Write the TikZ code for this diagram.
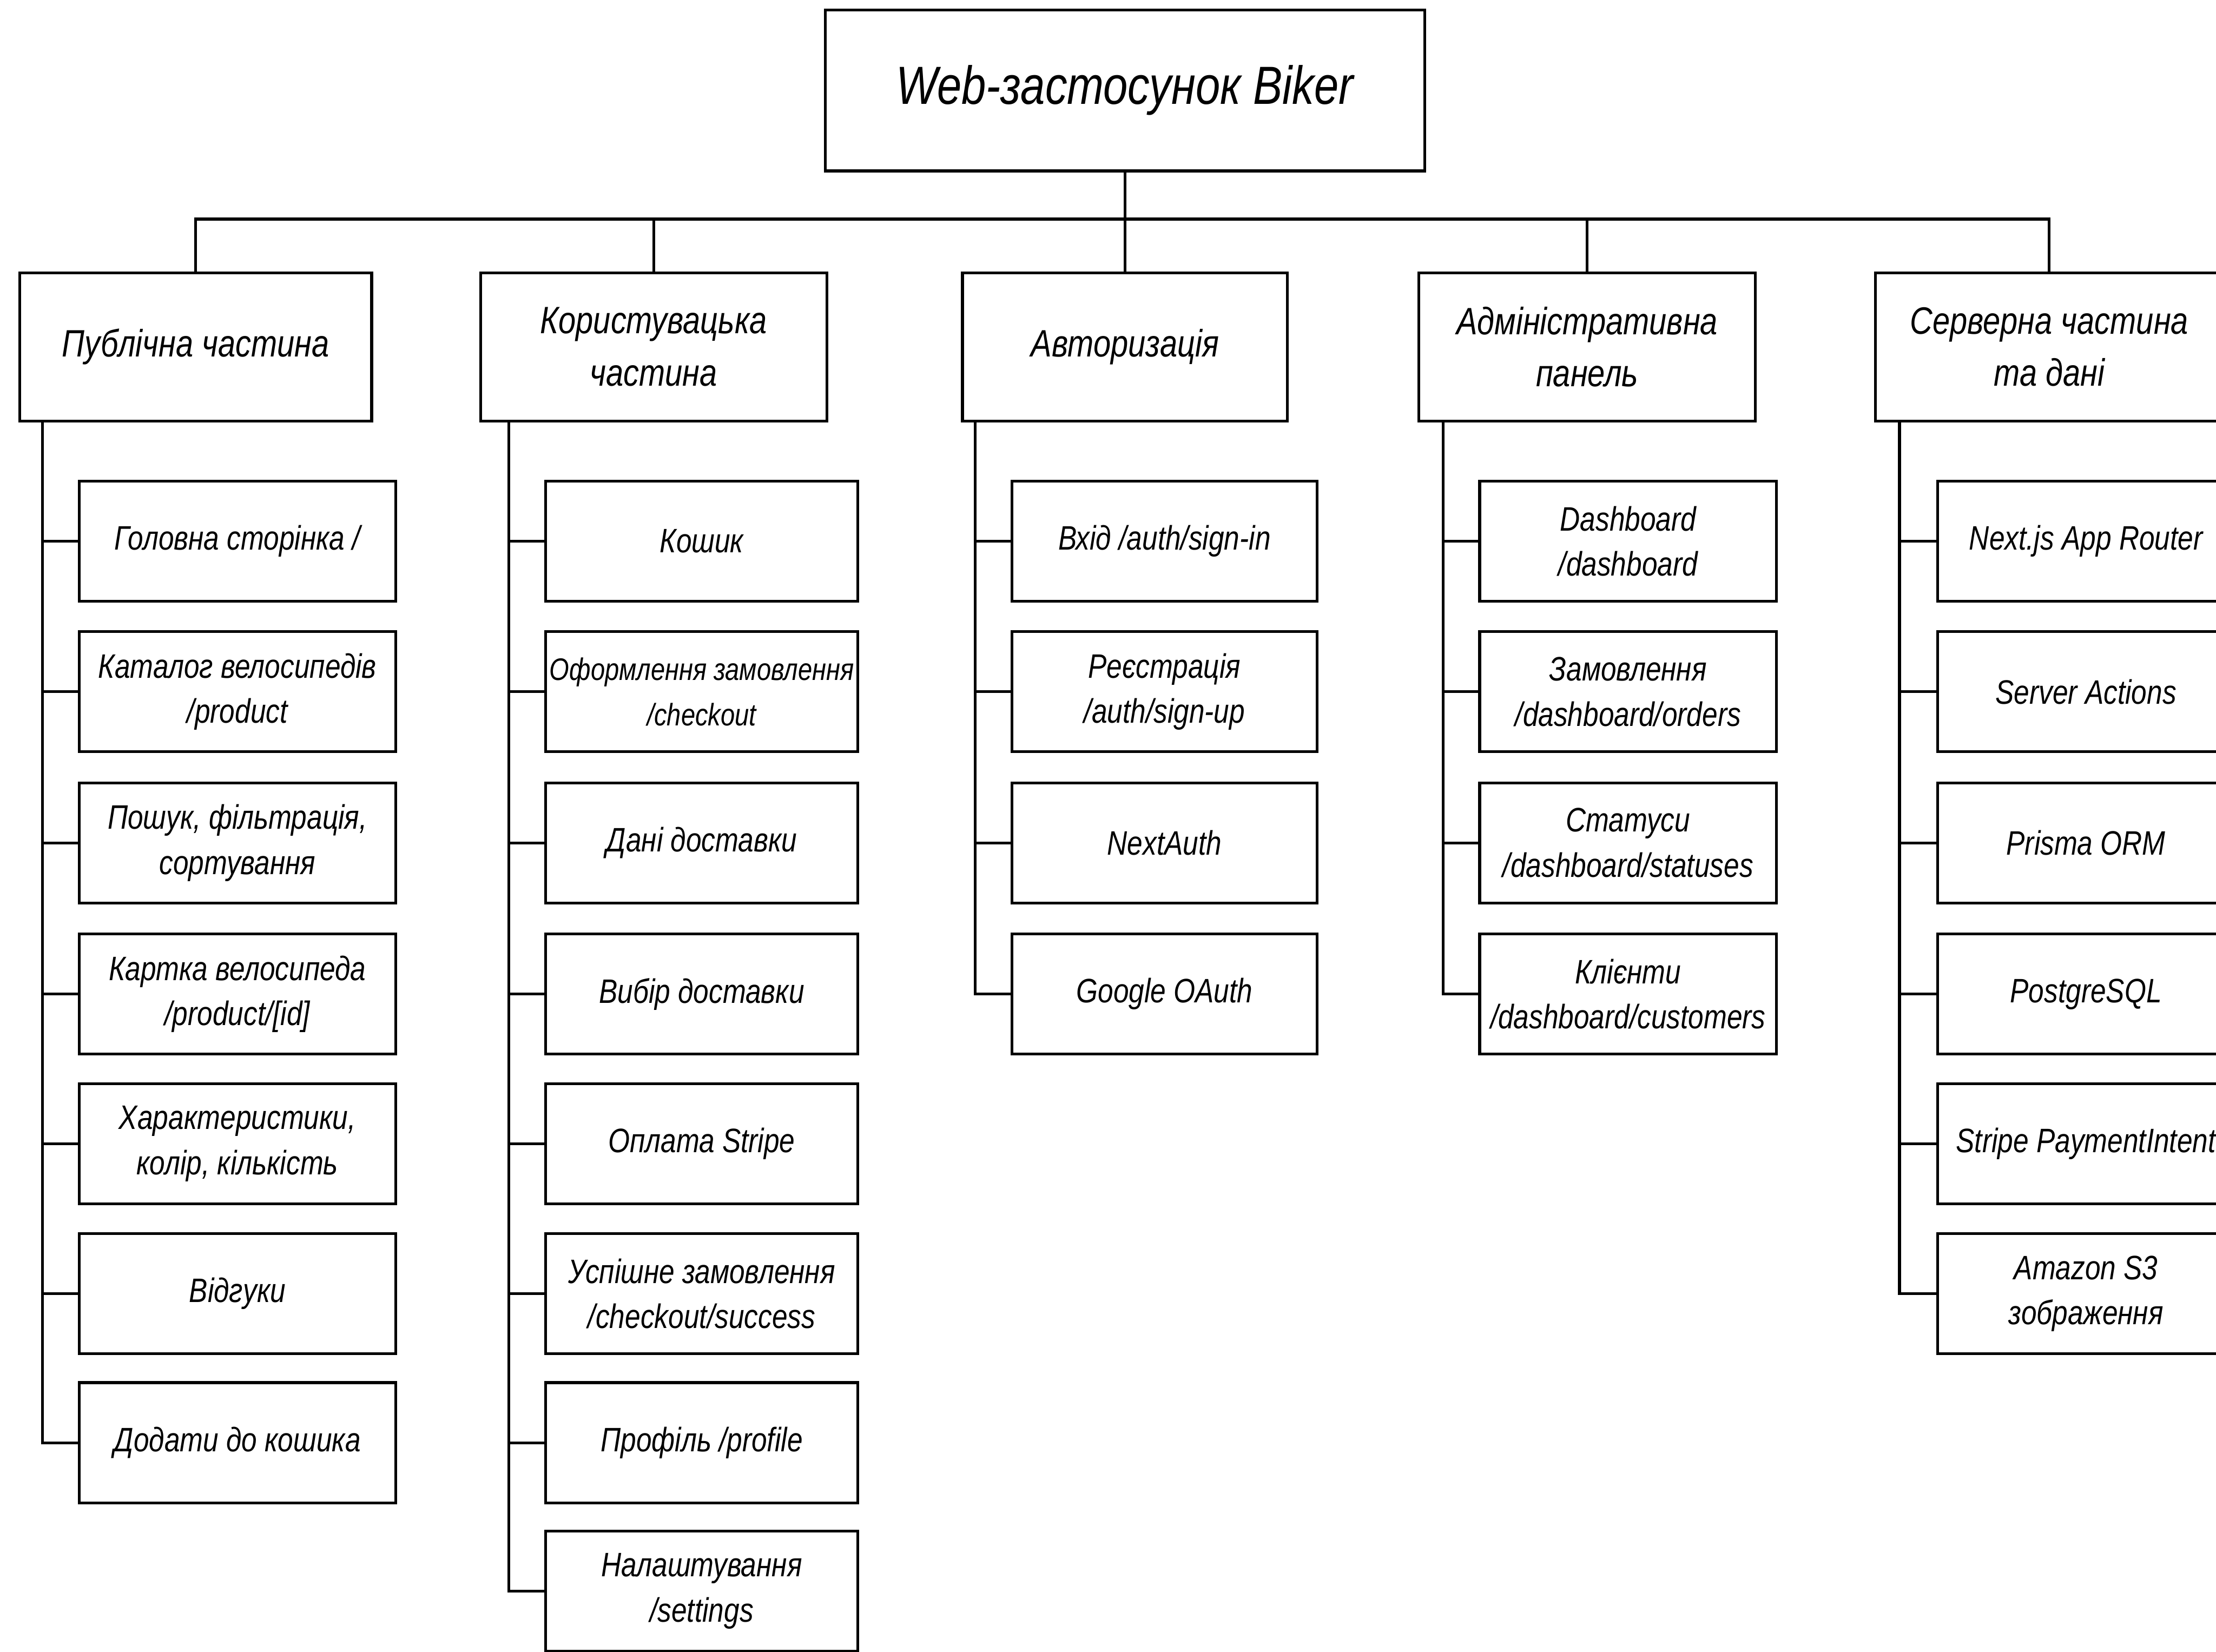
\documentclass[tikz,border=0pt]{standalone}
\usepackage{fontspec}
\setmainfont{Liberation Sans}[FakeStretch=0.82]
\begin{document}
\begin{tikzpicture}[x=1pt,y=-1pt,
  box/.style={draw, line width=2pt, align=center, inner sep=0pt, fill=white},
  topbox/.style={box, minimum width=424pt, minimum height=114pt, font=\fontsize{38}{44}\selectfont\itshape},
  catbox/.style={box, minimum height=105pt, font=\fontsize{27}{37}\selectfont\itshape},
  itembox/.style={box, minimum height=85pt, font=\fontsize{24}{32}\selectfont\itshape},
  link/.style={line width=2pt}]
\clip (0,0) rectangle (1568,1169);
\fill[white] (0,0) rectangle (1568,1169);

\node[topbox] (root) at (796,64) {Web-застосунок Biker};

\node[catbox, minimum width=249pt] (c1) at (138.5,245.5) {Публічна частина};
\node[catbox, minimum width=245pt] (c2) at (462.5,245.5) {Користувацька\\частина};
\node[catbox, minimum width=230pt] (c3) at (796,245.5) {Авторизація};
\node[catbox, minimum width=238pt] (c4) at (1123,245.5) {Адміністративна\\панель};
\node[catbox, minimum width=246pt] (c5) at (1450,245.5) {Серверна частина\\та дані};

\coordinate (bus) at (796,155);
\draw[link] (c1.north) |- (bus) -| (c5.north);
\draw[link] (root.south) -- (c3.north);
\draw[link] (bus -| c2.north) -- (c2.north);
\draw[link] (bus -| c4.north) -- (c4.north);

% column 1
\begin{scope}[every node/.style={itembox, minimum width=224pt}]
\node (a1) at (168,383) {Головна сторінка /};
\node (a2) at (168,489.5) {Каталог велосипедів\\/product};
\node (a3) at (168,596.5) {Пошук, фільтрація,\\сортування};
\node (a4) at (168,703.5) {Картка велосипеда\\/product/[id]};
\node (a5) at (168,809.5) {Характеристики,\\колір, кількість};
\node (a6) at (168,915.5) {Відгуки};
\node (a7) at (168,1021) {Додати до кошика};
\end{scope}
\coordinate (t1) at (30,298);
\draw[link] (t1) |- (a7.west);
\foreach \n in {a1,a2,a3,a4,a5,a6} \draw[link] (\n.west -| t1) -- (\n.west);

% column 2
\begin{scope}[every node/.style={itembox, minimum width=221pt}]
\node (b1) at (496.5,383) {Кошик};
\node[font=\fontsize{22}{32}\selectfont\itshape] (b2) at (496.5,489.5) {Оформлення замовлення\\/checkout};
\node (b3) at (496.5,596.5) {Дані доставки};
\node (b4) at (496.5,703.5) {Вибір доставки};
\node (b5) at (496.5,809.5) {Оплата Stripe};
\node (b6) at (496.5,915.5) {Успішне замовлення\\/checkout/success};
\node (b7) at (496.5,1021) {Профіль /profile};
\node (b8) at (496.5,1126) {Налаштування\\/settings};
\end{scope}
\coordinate (t2) at (360,298);
\draw[link] (t2) |- (b8.west);
\foreach \n in {b1,b2,b3,b4,b5,b6,b7} \draw[link] (\n.west -| t2) -- (\n.west);

% column 3
\begin{scope}[every node/.style={itembox, minimum width=216pt}]
\node (d1) at (824,383) {Вхід /auth/sign-in};
\node (d2) at (824,489.5) {Реєстрація\\/auth/sign-up};
\node (d3) at (824,596.5) {NextAuth};
\node (d4) at (824,703.5) {Google OAuth};
\end{scope}
\coordinate (t3) at (690,298);
\draw[link] (t3) |- (d4.west);
\foreach \n in {d1,d2,d3} \draw[link] (\n.west -| t3) -- (\n.west);

% column 4
\begin{scope}[every node/.style={itembox, minimum width=210pt}]
\node (e1) at (1152,383) {Dashboard\\/dashboard};
\node (e2) at (1152,489.5) {Замовлення\\/dashboard/orders};
\node (e3) at (1152,596.5) {Статуси\\/dashboard/statuses};
\node (e4) at (1152,703.5) {Клієнти\\/dashboard/customers};
\end{scope}
\coordinate (t4) at (1021,298);
\draw[link] (t4) |- (e4.west);
\foreach \n in {e1,e2,e3} \draw[link] (\n.west -| t4) -- (\n.west);

% column 5
\begin{scope}[every node/.style={itembox, minimum width=210pt}]
\node (f1) at (1476,383) {Next.js App Router};
\node (f2) at (1476,489.5) {Server Actions};
\node (f3) at (1476,596.5) {Prisma ORM};
\node (f4) at (1476,703.5) {PostgreSQL};
\node (f5) at (1476,809.5) {Stripe PaymentIntent};
\node (f6) at (1476,915.5) {Amazon S3\\зображення};
\end{scope}
\coordinate (t5) at (1344,298);
\draw[link] (t5) |- (f6.west);
\foreach \n in {f1,f2,f3,f4,f5} \draw[link] (\n.west -| t5) -- (\n.west);
\end{tikzpicture}
\end{document}
